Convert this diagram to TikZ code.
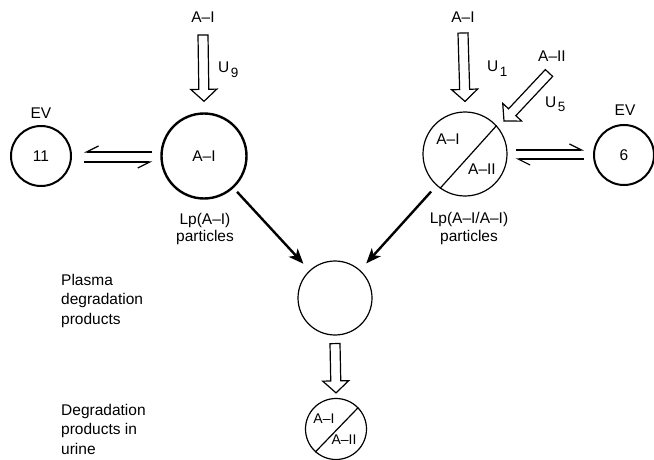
\documentclass[tikz,border=0pt]{standalone}
\usepackage{fontspec}
\setmainfont{Liberation Sans}
\usetikzlibrary{arrows.meta,calc}
\newcommand\subidx[1]{\hspace{1.5pt}\raisebox{-4.5pt}{\fontsize{13.5}{13.5}\selectfont #1}}
% #1 tail coordinate, #2 tip coordinate
\newcommand\hollowarr[2]{%
  \coordinate (hh) at ($(#2)!12pt!(#1)$);
  \draw[hollowline] (#2) -- ($(hh)!13pt!90:(#2)$) -- ($(hh)!5pt!90:(#2)$)
    -- ($(#1)!5pt!90:(#2)$) -- ($(#1)!5pt!-90:(#2)$)
    -- ($(hh)!5pt!-90:(#2)$) -- ($(hh)!13pt!-90:(#2)$) -- cycle;}
\begin{document}
\begin{tikzpicture}[x=1pt,y=-1pt,
  every node/.style={inner sep=0pt, font=\fontsize{15.5}{19.5}\selectfont},
  lbl/.style={anchor=base},
  boldcirc/.style={circle, draw, line width=2.4pt, minimum size=85pt},
  thincirc/.style={circle, draw, line width=1.2pt},
  evcirc/.style={circle, draw, line width=2pt, minimum size=60pt},
  hollowline/.style={line width=1.2pt, line join=miter},
  harp/.style={line width=1.2pt},
  thickarrow/.style={line width=2.4pt, -{Stealth[length=15pt,width=12pt,inset=4pt]}},
  small/.style={font=\fontsize{14}{16}\selectfont}]
\useasboundingbox (0,0) rectangle (654,460);

% circles
\node[boldcirc] (bigL) at (204,156) {A--I};
\node[evcirc] (ev11) at (41,156) {11};
\node[thincirc, minimum size=84pt] (bigR) at (465,154) {};
\node[evcirc] (ev6) at (624,155) {6};
\node[thincirc, minimum size=74pt] (mid) at (335,298) {};
\node[thincirc, minimum size=61pt] (bot) at (336,429) {};

% split lines
\draw[line width=1.2pt] (bigR.234) -- (bigR.42);
\draw[line width=1.2pt] (bot.228) -- (bot.44);

% texts in split circles
\node[lbl] (rAI) at (448,145) {A--I};
\node[lbl] (rAII) at (482,174) {A--II};
\node[lbl, small] (bAI) at (324,423) {A--I};
\node[lbl, small] (bAII) at (344,444) {A--II};

% labels
\node[lbl] (topL) at (203,23) {A--I};
\node[lbl, anchor=base west] (u9) at (218,73) {U\subidx{9}};
\node[lbl] (evL) at (41,118) {EV};
\node[lbl] (lpL) at (205,224) {Lp(A--I)};
\node[lbl] (partL) at (205,241) {particles};
\node[lbl] (topR) at (463,23) {A--I};
\node[lbl, anchor=base west] (u1) at (487,72) {U\subidx{1}};
\node[lbl] (aii) at (552,62) {A--II};
\node[lbl, anchor=base west] (u5) at (545,107) {U\subidx{5}};
\node[lbl] (evR) at (625,115) {EV};
\node[lbl] (lpR) at (469,223) {Lp(A--I/A--I)};
\node[lbl] (partR) at (469,241) {particles};
\node[anchor=north west, align=left] (plasma) at (61,274) {Plasma\\degradation\\products};
\node[anchor=north west, align=left] (urine) at (61,404) {Degradation\\products in\\urine};

% hollow arrows
\coordinate (u9s) at ($(topL.base)+(0,12)$);
\coordinate (u9t) at ($(bigL.north)+(0,-11)$);
\hollowarr{u9s}{u9t}
\coordinate (u1s) at ($(topR.base)+(0,10)$);
\coordinate (u1t) at ($(bigR.north)+(0,-10)$);
\hollowarr{u1s}{u1t}
\coordinate (u5s) at ($(aii.base)+(-3,11)$);
\coordinate (u5t) at ($(bigR.center)+(39,-33)$);
\hollowarr{u5s}{u5t}
\coordinate (dns) at ($(mid.south)+(0,8)$);
\coordinate (dnt) at ($(bot.north)+(0,-5)$);
\hollowarr{dns}{dnt}

% harpoons
\draw[harp, -{Straight Barb[harpoon,swap,length=12pt,width=12pt]}, shorten <=8pt, shorten >=12pt]
  ([yshift=4pt]bigL.west) -- ([yshift=4pt]bigL.west -| ev11.east);
\draw[harp, -{Straight Barb[harpoon,swap,length=12pt,width=12pt]}, shorten <=12pt, shorten >=8pt]
  ([yshift=-6pt]ev11.east) -- ([yshift=-6pt]ev11.east -| bigL.west);
\draw[harp, -{Straight Barb[harpoon,length=12pt,width=12pt]}, shorten <=8pt, shorten >=9pt]
  ([yshift=4pt]bigR.east) -- ([yshift=4pt]bigR.east -| ev6.west);
\draw[harp, -{Straight Barb[harpoon,length=12pt,width=12pt]}, shorten <=9pt, shorten >=8pt]
  ([yshift=-5pt]bigR.east -| ev6.west) -- ([yshift=-5pt]bigR.east);

% thick arrows
\draw[thickarrow, shorten <=5pt, shorten >=9pt] (bigL) -- (mid);
\draw[thickarrow, shorten <=8pt, shorten >=9pt] (bigR) -- (mid);
\end{tikzpicture}
\end{document}
